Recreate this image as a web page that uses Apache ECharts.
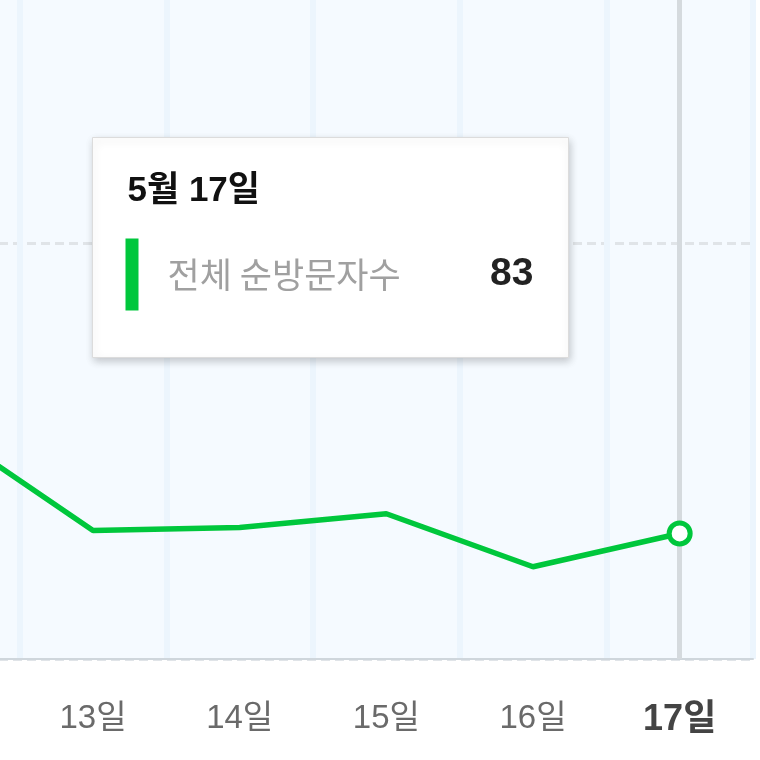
<!DOCTYPE html>
<html>
<head>
<meta charset="utf-8">
<script src="https://cdn.jsdelivr.net/npm/echarts@6/dist/echarts.min.js"></script>
<style>
html,body{margin:0;padding:0;background:#fff;width:760px;height:760px;overflow:hidden;position:relative;}
#chart{position:absolute;left:-127px;top:-173px;width:887px;height:933px;}
</style>
</head>
<body>
<div id="chart"></div>
<script>
const categories = ['12일', '13일', '14일', '15일', '16일', '17일'];
const visitors = [151, 85, 87, 96, 61, 83];
const seriesName = '전체 순방문자수';
const tooltipTitle = '5월 17일';
const selectedIndex = 5;
const yTicks = [0, 275, 550];

const green = '#00c73c';
const fontNum = 'Liberation Sans, Arial, "Noto Sans CJK KR", sans-serif';

const chart = echarts.init(document.getElementById('chart'), null, {renderer: 'canvas'});

const seriesData = visitors.map((v, i) => i === selectedIndex ? {
  value: v,
  symbol: 'circle',
  symbolSize: 21,
  itemStyle: {color: '#ffffff', borderColor: green, borderWidth: 5}
} : {value: v, symbol: 'none'});

// the visible window starts 127px right and 173px below the chart's own origin
const ox = 127, oy = 173;

const option = {
  animation: false,
  backgroundColor: '#ffffff',
  grid: {
    left: 0, right: 7, top: 0, bottom: 101,
    show: true, backgroundColor: '#f5faff', borderWidth: 0
  },
  xAxis: {
    type: 'category',
    data: categories,
    boundaryGap: true,
    axisLine: {show: true, lineStyle: {color: '#cfd6dc', width: 2}},
    axisTick: {show: false},
    splitLine: {show: true, interval: 0, lineStyle: {color: '#ecf5fd', width: 6}},
    axisLabel: {
      interval: 0,
      margin: 43,
      fontSize: 33,
      color: '#6a6a6a',
      fontFamily: fontNum,
      formatter: (v, i) => i === selectedIndex ? '{b|' + v + '}' : v,
      rich: {
        b: {fontSize: 36, fontWeight: 'bold', color: '#444', fontFamily: fontNum}
      }
    }
  },
  yAxis: {
    type: 'value',
    min: yTicks[0],
    max: yTicks[yTicks.length - 1],
    interval: yTicks[1] - yTicks[0],
    axisLine: {show: false},
    axisTick: {show: false},
    axisLabel: {show: false},
    splitLine: {show: true, lineStyle: {color: '#e0e4e8', width: 3, type: [9, 5]}}
  },
  series: [{
    type: 'line',
    name: seriesName,
    data: seriesData,
    symbol: 'none',
    showAllSymbol: true,
    color: green,
    lineStyle: {color: green, width: 5.5},
    emphasis: {disabled: true},
    z: 3,
    markLine: {
      silent: true,
      z: 1,
      symbol: 'none',
      label: {show: false},
      lineStyle: {color: '#d5dade', width: 5, type: 'solid'},
      data: [{xAxis: categories[selectedIndex]}]
    }
  }],
  graphic: [{
    type: 'group',
    left: 92 + ox, top: 137 + oy,
    z: 100,
    children: [
      {
        type: 'rect',
        z: 100,
        shape: {x: 0, y: 0, width: 476, height: 220},
        style: {
          fill: '#ffffff', stroke: '#dcdcdc', lineWidth: 1,
          shadowBlur: 8, shadowOffsetX: 1, shadowOffsetY: 3, shadowColor: 'rgba(0,0,0,0.2)'
        }
      },
      {
        type: 'text',
        z: 101,
        x: 35, y: 54,
        style: {
          text: tooltipTitle, fontSize: 35, fontWeight: 'bold', fill: '#111',
          fontFamily: fontNum, align: 'left', verticalAlign: 'middle'
        }
      },
      {
        type: 'rect',
        z: 101,
        shape: {x: 33, y: 101, width: 13, height: 72},
        style: {fill: green}
      },
      {
        type: 'text',
        z: 101,
        x: 75, y: 137,
        style: {
          text: seriesName, fontSize: 35, fill: '#a0a0a0',
          fontFamily: '"Noto Sans CJK KR", sans-serif', align: 'left', verticalAlign: 'middle'
        }
      },
      {
        type: 'text',
        z: 101,
        x: 441, y: 137,
        style: {
          text: String(visitors[selectedIndex]), fontSize: 39, fontWeight: 'bold', fill: '#222',
          fontFamily: fontNum, align: 'right', verticalAlign: 'middle'
        }
      }
    ]
  }]
};
chart.setOption(option);
</script>
</body>
</html>
